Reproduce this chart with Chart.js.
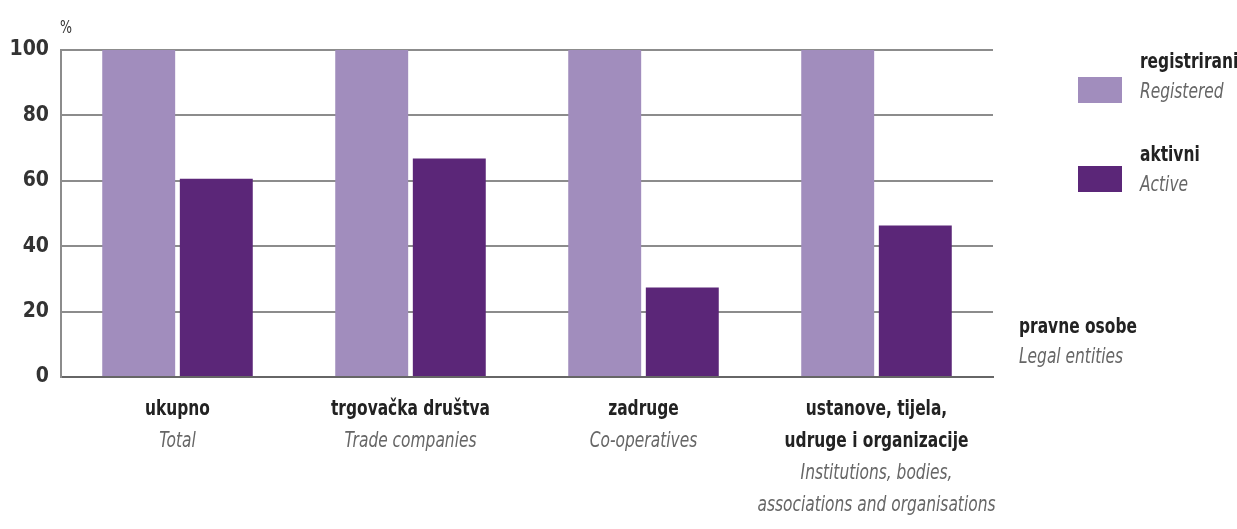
<!DOCTYPE html>
<html>
<head>
<meta charset="utf-8">
<script src="https://cdn.jsdelivr.net/npm/chart.js@4/dist/chart.umd.min.js"></script>
<style>
  html, body { margin: 0; padding: 0; background: #fff; }
  #wrap { position: relative; width: 1237px; height: 529px; font-family: 'Liberation Sans Narrow', 'DejaVu Sans Condensed', sans-serif; }
  canvas { position: absolute; left: 0; top: 0; }
  .t { position: absolute; white-space: nowrap; font-size: 22px; line-height: 30px; transform: scaleX(0.78); transform-origin: left top; }
  .b { color: #222; font-weight: bold; }
  .i { color: #666; font-style: italic; }
  .sw { position: absolute; width: 44px; height: 26px; }
</style>
</head>
<body>
<div id="wrap">
  <canvas id="chart" width="1237" height="529"></canvas>
  <div class="sw" style="left:1078px;top:77px;background:#a18dbd"></div>
  <div class="t b" style="left:1140px;top:46px">registrirani</div>
  <div class="t i" style="left:1140px;top:76px">Registered</div>
  <div class="sw" style="left:1078px;top:166px;background:#5b2678"></div>
  <div class="t b" style="left:1140px;top:139px">aktivni</div>
  <div class="t i" style="left:1140px;top:169px">Active</div>
  <div class="t b" style="left:1019px;top:311px">pravne osobe</div>
  <div class="t i" style="left:1019px;top:341px">Legal entities</div>
</div>
<script>
// categories: first lines bold (Croatian), then italic (English)
const catHr = [['ukupno'], ['trgovačka društva'], ['zadruge'], ['ustanove, tijela,', 'udruge i organizacije']];
const catEn = [['Total'], ['Trade companies'], ['Co-operatives'], ['Institutions, bodies,', 'associations and organisations']];
const registered = [100, 100, 100, 100];
const active = [60.6, 66.8, 27.4, 46.3];
const yTicks = [0, 20, 40, 60, 80, 100];

const FONT = "'Liberation Sans Narrow', 'DejaVu Sans Condensed', sans-serif";

// draws the two-language category labels under the axis, narrowed like the original type
const xLabels = {
  id: 'xLabels',
  afterDraw(chart) {
    const ctx = chart.ctx;
    const xs = chart.scales.x;
    const put = (txt, x, y) => {
      ctx.save();
      ctx.translate(x, y);
      ctx.scale(0.78, 1);
      ctx.fillText(txt, 0, 0);
      ctx.restore();
    };
    ctx.save();
    ctx.textAlign = 'center';
    ctx.textBaseline = 'middle';
    catHr.forEach((lines, i) => {
      const x = xs.getPixelForValue(i);
      let y = 409;
      ctx.font = 'bold 22px ' + FONT;
      ctx.fillStyle = '#222';
      lines.forEach(l => { put(l, x, y); y += 32; });
      ctx.font = 'italic 22px ' + FONT;
      ctx.fillStyle = '#666';
      catEn[i].forEach(l => { put(l, x, y); y += 32; });
    });
    ctx.font = '18px ' + FONT;
    ctx.fillStyle = '#333';
    ctx.textAlign = 'left';
    put('%', 60, 28);
    ctx.restore();
  }
};

new Chart(document.getElementById('chart'), {
  type: 'bar',
  data: {
    labels: catHr.map(l => l.join(' ')),
    datasets: [
      { label: 'registrirani', data: registered, backgroundColor: '#a18dbd', categoryPercentage: 0.666, barPercentage: 0.94 },
      { label: 'aktivni', data: active, backgroundColor: '#5b2678', categoryPercentage: 0.666, barPercentage: 0.94 }
    ]
  },
  options: {
    responsive: false,
    animation: false,
    layout: { padding: { top: 50, right: 244, bottom: 144, left: 0 } },
    plugins: { legend: { display: false }, tooltip: { enabled: false } },
    scales: {
      x: {
        ticks: { display: false },
        grid: { display: false },
        border: { color: '#666', width: 2 }
      },
      y: {
        min: 0, max: 100,
        afterBuildTicks: s => { s.ticks = yTicks.map(v => ({ value: v })); },
        afterFit: s => { s.width = 61; },
        ticks: { padding: 12, color: '#333', font: { family: FONT, size: 21, weight: 'bold' } },
        grid: { color: '#8c8c8c', lineWidth: 2, drawTicks: false },
        border: { color: '#8c8c8c', width: 2 }
      }
    }
  },
  plugins: [xLabels]
});
</script>
</body>
</html>
